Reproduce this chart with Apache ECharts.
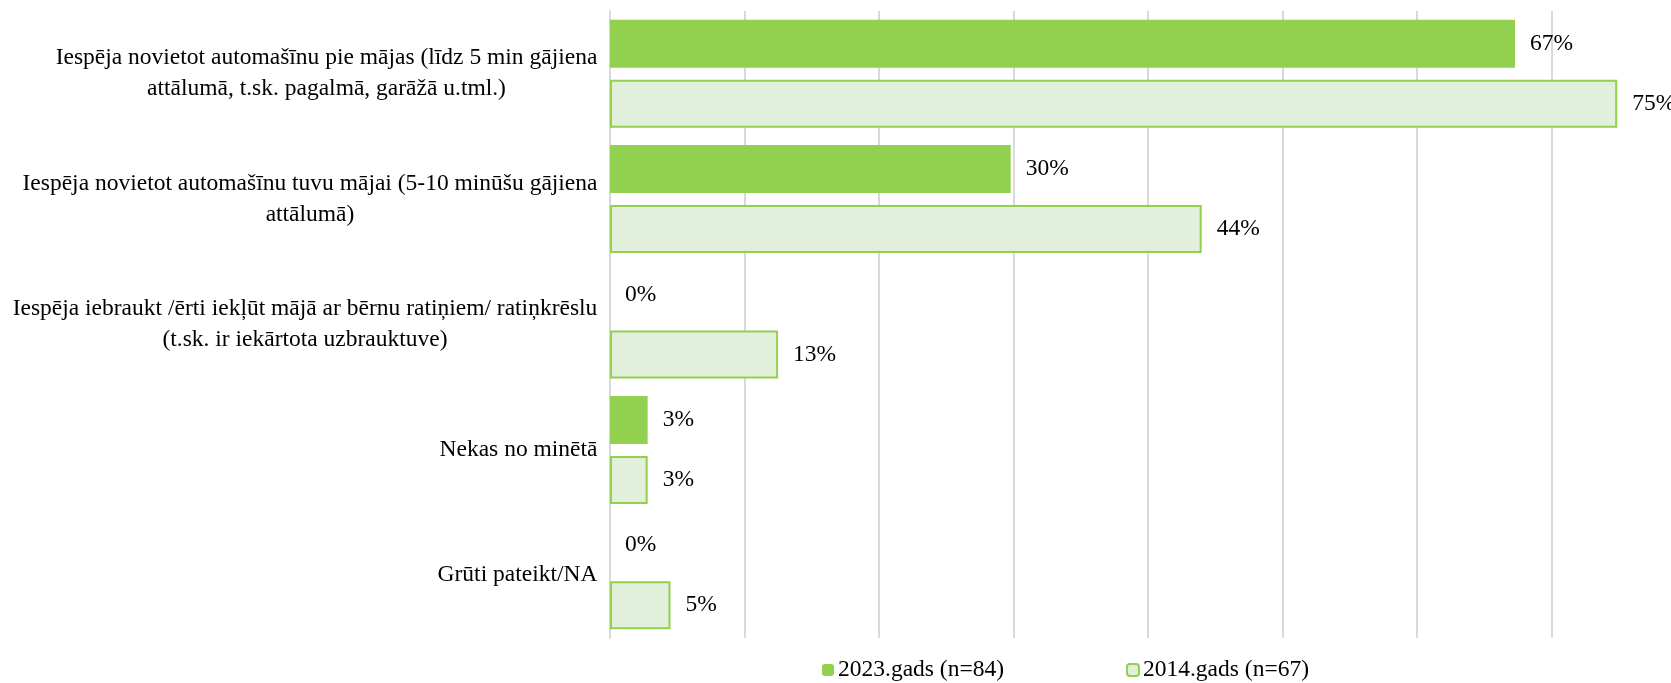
<!DOCTYPE html>
<html>
<head>
<meta charset="utf-8">
<script src="https://cdn.jsdelivr.net/npm/echarts@6/dist/echarts.min.js"></script>
<style>
html,body{margin:0;padding:0;background:#fff;}
#chart{width:1671px;height:683px;}
</style>
</head>
<body>
<div id="chart"></div>
<script>
const categories = [
  "Iespēja novietot automašīnu pie mājas (līdz 5 min gājiena\nattālumā, t.sk. pagalmā, garāžā u.tml.)",
  "Iespēja novietot automašīnu tuvu mājai (5-10 minūšu gājiena\nattālumā)",
  "Iespēja iebraukt /ērti iekļūt mājā ar bērnu ratiņiem/ ratiņkrēslu\n(t.sk. ir iekārtota uzbrauktuve)",
  "Nekas no minētā",
  "Grūti pateikt/NA"
];
const seriesNames = ["2023.gads (n=84)", "2014.gads (n=67)"];
const values2023 = [67.3, 29.8, 0, 2.8, 0];
const values2014 = [74.9, 44.0, 12.5, 2.8, 4.5];
const xTickStep = 10;          // gridline spacing (percent)
const xVisibleMax = 78.9;      // the plot is cut at the right edge of the picture

const FONT = "'Liberation Serif', 'Times New Roman', serif";
const FS = 23.5;

// measure lines so wrapped category labels are centred within their block
const ctx = document.createElement('canvas').getContext('2d');
ctx.font = FS + 'px ' + FONT;
const rich = {};
categories.forEach((c, i) => {
  const w = Math.max(...c.split('\n').map(l => ctx.measureText(l).width));
  rich['c' + i] = { width: Math.ceil(w) + 1, align: 'center', fontFamily: FONT, fontSize: FS, color: '#000', lineHeight: 31 };
});

// gridline colours: the last (cut-off edge) line is hidden
const nLines = Math.floor(xVisibleMax / xTickStep) + 2;
const gridColors = [];
for (let i = 0; i < nLines; i++) gridColors.push(i < nLines - 1 ? '#D9D9D9' : 'rgba(0,0,0,0)');

const chart = echarts.init(document.getElementById('chart'), null, { renderer: 'canvas' });
const labelCfg = {
  show: true,
  position: 'right',
  distance: 15,
  fontFamily: FONT,
  fontSize: FS,
  color: '#000',
  formatter: p => Math.round(p.value) + '%'
};
chart.setOption({
  animation: false,
  backgroundColor: '#fff',
  textStyle: { fontFamily: FONT },
  grid: { left: 610, top: 11, right: 0, height: 627, containLabel: false },
  legend: {
    data: seriesNames,
    top: 653,
    left: 817,
    itemGap: 122,
    itemWidth: 12,
    itemHeight: 12,
    textStyle: { fontFamily: FONT, fontSize: FS, color: '#000', padding: [0, 0, 0, -1] }
  },
  xAxis: {
    type: 'value',
    min: 0,
    max: xVisibleMax,
    interval: xTickStep,
    axisLabel: { show: false },
    axisLine: { show: false },
    axisTick: { show: false },
    splitLine: { show: true, lineStyle: { color: gridColors, width: 2 } }
  },
  yAxis: {
    type: 'category',
    inverse: true,
    data: categories,
    axisLine: { show: true, lineStyle: { color: '#D9D9D9', width: 2 } },
    axisTick: { show: false },
    axisLabel: {
      margin: 12,
      interval: 0,
      formatter: (v, i) => v.split('\n').map(l => '{c' + i + '|' + l + '}').join('\n'),
      rich: rich
    }
  },
  series: [
    {
      name: seriesNames[0],
      type: 'bar',
      data: values2023,
      barWidth: 48,
      barGap: '25%',
      itemStyle: { color: '#92D050' },
      label: labelCfg
    },
    {
      name: seriesNames[1],
      type: 'bar',
      data: values2014,
      barWidth: 48,
      barGap: '25%',
      itemStyle: { color: '#E2EFDA', borderColor: '#92D050', borderWidth: 2 },
      label: labelCfg
    }
  ]
});
</script>
</body>
</html>
